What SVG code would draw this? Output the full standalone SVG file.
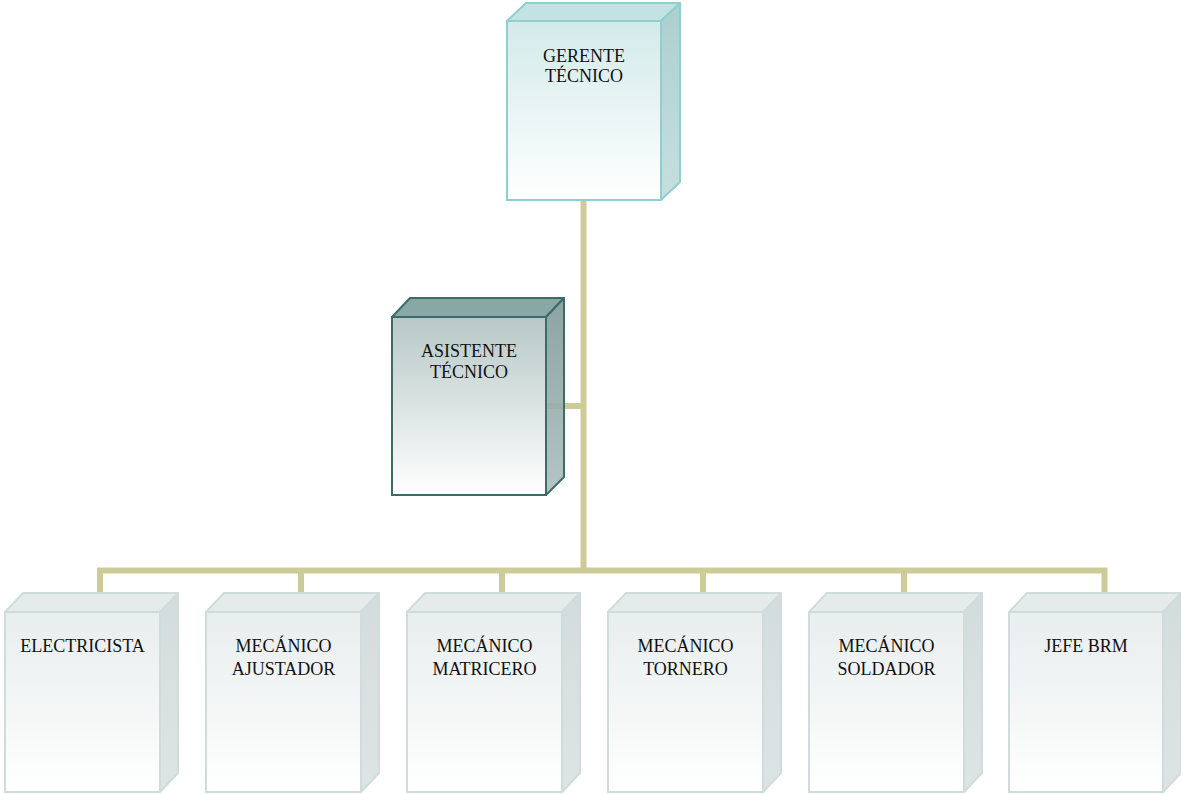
<svg xmlns="http://www.w3.org/2000/svg" width="1181" height="794" viewBox="0 0 1181 794">
  <defs>
    <!-- face fills for the three box styles -->
    <linearGradient id="frontTeal" x1="0" y1="0" x2="0" y2="1">
      <stop offset="0" stop-color="#d3eaea"/>
      <stop offset="1" stop-color="#ffffff"/>
    </linearGradient>
    <linearGradient id="sideTeal" x1="0" y1="0" x2="0" y2="1">
      <stop offset="0" stop-color="#aecfcf"/>
      <stop offset="1" stop-color="#c6dfdf"/>
    </linearGradient>
    <linearGradient id="frontSlate" x1="0" y1="0" x2="0" y2="1">
      <stop offset="0" stop-color="#b7c8c7"/>
      <stop offset="1" stop-color="#ffffff"/>
    </linearGradient>
    <linearGradient id="sideSlate" x1="0" y1="0" x2="0" y2="1">
      <stop offset="0" stop-color="#7a9896"/>
      <stop offset="1" stop-color="#a9bebd"/>
    </linearGradient>
    <linearGradient id="frontGrey" x1="0" y1="0" x2="0" y2="1">
      <stop offset="0" stop-color="#e8eded"/>
      <stop offset="1" stop-color="#ffffff"/>
    </linearGradient>
    <linearGradient id="sideGrey" x1="0" y1="0" x2="0" y2="1">
      <stop offset="0" stop-color="#d3dcdc"/>
      <stop offset="1" stop-color="#dde4e4"/>
    </linearGradient>
  </defs>
  <style>
    .lbl { font-family: "Liberation Serif", "Times New Roman", serif; font-size: 18px; fill: #111111; text-anchor: middle; }
    .link { fill: none; stroke: #cdcc99; stroke-width: 6; stroke-linecap: butt; stroke-linejoin: miter; }
    .teal .front { fill: url(#frontTeal); stroke: #8fcfce; stroke-width: 2; }
    .teal .top { fill: #c3e2e2; stroke: #8fcfce; stroke-width: 2; stroke-linejoin: round; }
    .teal .side { fill: url(#sideTeal); stroke: #8fcfce; stroke-width: 2; stroke-linejoin: round; }
    .slate .front { fill: url(#frontSlate); stroke: #3d6b69; stroke-width: 2; }
    .slate .top { fill: #88a8a5; stroke: #3d6b69; stroke-width: 2; stroke-linejoin: round; }
    .slate .side { fill: url(#sideSlate); fill-opacity: 0.88; stroke: #3d6b69; stroke-width: 2; stroke-linejoin: round; }
    .grey .front { fill: url(#frontGrey); stroke: #d0dcdc; stroke-width: 2; }
    .grey .top { fill: #e5eaea; stroke: #d0dcdc; stroke-width: 2; stroke-linejoin: round; }
    .grey .side { fill: url(#sideGrey); stroke: #d0dcdc; stroke-width: 2; stroke-linejoin: round; }
  </style>

  <rect width="1181" height="794" fill="#ffffff"/>

  <!-- connectors -->
  <g id="connectors">
    <path class="link" d="M583.5 200 V570.5"/>
    <path class="link" d="M547 406 H583.5"/>
    <path class="link" d="M100 593 V570.5 H1104.5 V593"/>
    <path class="link" d="M301 570.5 V593"/>
    <path class="link" d="M502 570.5 V593"/>
    <path class="link" d="M703 570.5 V593"/>
    <path class="link" d="M904 570.5 V593"/>
  </g>

  <!-- top: technical manager -->
  <g id="gerente" class="teal">
    <polygon class="top" points="507,21 526,3 680,3 661,21"/>
    <polygon class="side" points="661,21 680,3 680,182 661,200"/>
    <rect class="front" x="507" y="21" width="154" height="179"/>
    <text class="lbl" x="584" y="61.5">GERENTE</text>
    <text class="lbl" x="584" y="82">TÉCNICO</text>
  </g>

  <!-- staff: technical assistant -->
  <g id="asistente" class="slate">
    <polygon class="top" points="392,317 410,298 564,298 546,317"/>
    <polygon class="side" points="546,317 564,298 564,477 546,495"/>
    <rect class="front" x="392" y="317" width="154" height="178"/>
    <text class="lbl" x="469" y="356.5">ASISTENTE</text>
    <text class="lbl" x="469" y="378">TÉCNICO</text>
  </g>

  <!-- bottom row -->
  <g id="electricista" class="grey">
    <polygon class="top" points="5,612 23,593 178,593 160,612"/>
    <polygon class="side" points="160,612 178,593 178,773 160,792"/>
    <rect class="front" x="5" y="612" width="155" height="180"/>
    <text class="lbl" x="82.5" y="652">ELECTRICISTA</text>
  </g>

  <g id="ajustador" class="grey">
    <polygon class="top" points="206,612 224,593 379,593 361,612"/>
    <polygon class="side" points="361,612 379,593 379,773 361,792"/>
    <rect class="front" x="206" y="612" width="155" height="180"/>
    <text class="lbl" x="283.5" y="652">MECÁNICO</text>
    <text class="lbl" x="283.5" y="674.5">AJUSTADOR</text>
  </g>

  <g id="matricero" class="grey">
    <polygon class="top" points="407,612 425,593 580,593 562,612"/>
    <polygon class="side" points="562,612 580,593 580,773 562,792"/>
    <rect class="front" x="407" y="612" width="155" height="180"/>
    <text class="lbl" x="484.5" y="652">MECÁNICO</text>
    <text class="lbl" x="484.5" y="674.5">MATRICERO</text>
  </g>

  <g id="tornero" class="grey">
    <polygon class="top" points="608,612 626,593 781,593 763,612"/>
    <polygon class="side" points="763,612 781,593 781,773 763,792"/>
    <rect class="front" x="608" y="612" width="155" height="180"/>
    <text class="lbl" x="685.5" y="652">MECÁNICO</text>
    <text class="lbl" x="685.5" y="674.5">TORNERO</text>
  </g>

  <g id="soldador" class="grey">
    <polygon class="top" points="809,612 827,593 982,593 964,612"/>
    <polygon class="side" points="964,612 982,593 982,773 964,792"/>
    <rect class="front" x="809" y="612" width="155" height="180"/>
    <text class="lbl" x="886.5" y="652">MECÁNICO</text>
    <text class="lbl" x="886.5" y="674.5">SOLDADOR</text>
  </g>

  <g id="jefe-brm" class="grey">
    <polygon class="top" points="1009,612 1027,593 1181,593 1163,612"/>
    <polygon class="side" points="1163,612 1181,593 1181,773 1163,792"/>
    <rect class="front" x="1009" y="612" width="154" height="180"/>
    <text class="lbl" x="1086" y="652">JEFE BRM</text>
  </g>
</svg>
